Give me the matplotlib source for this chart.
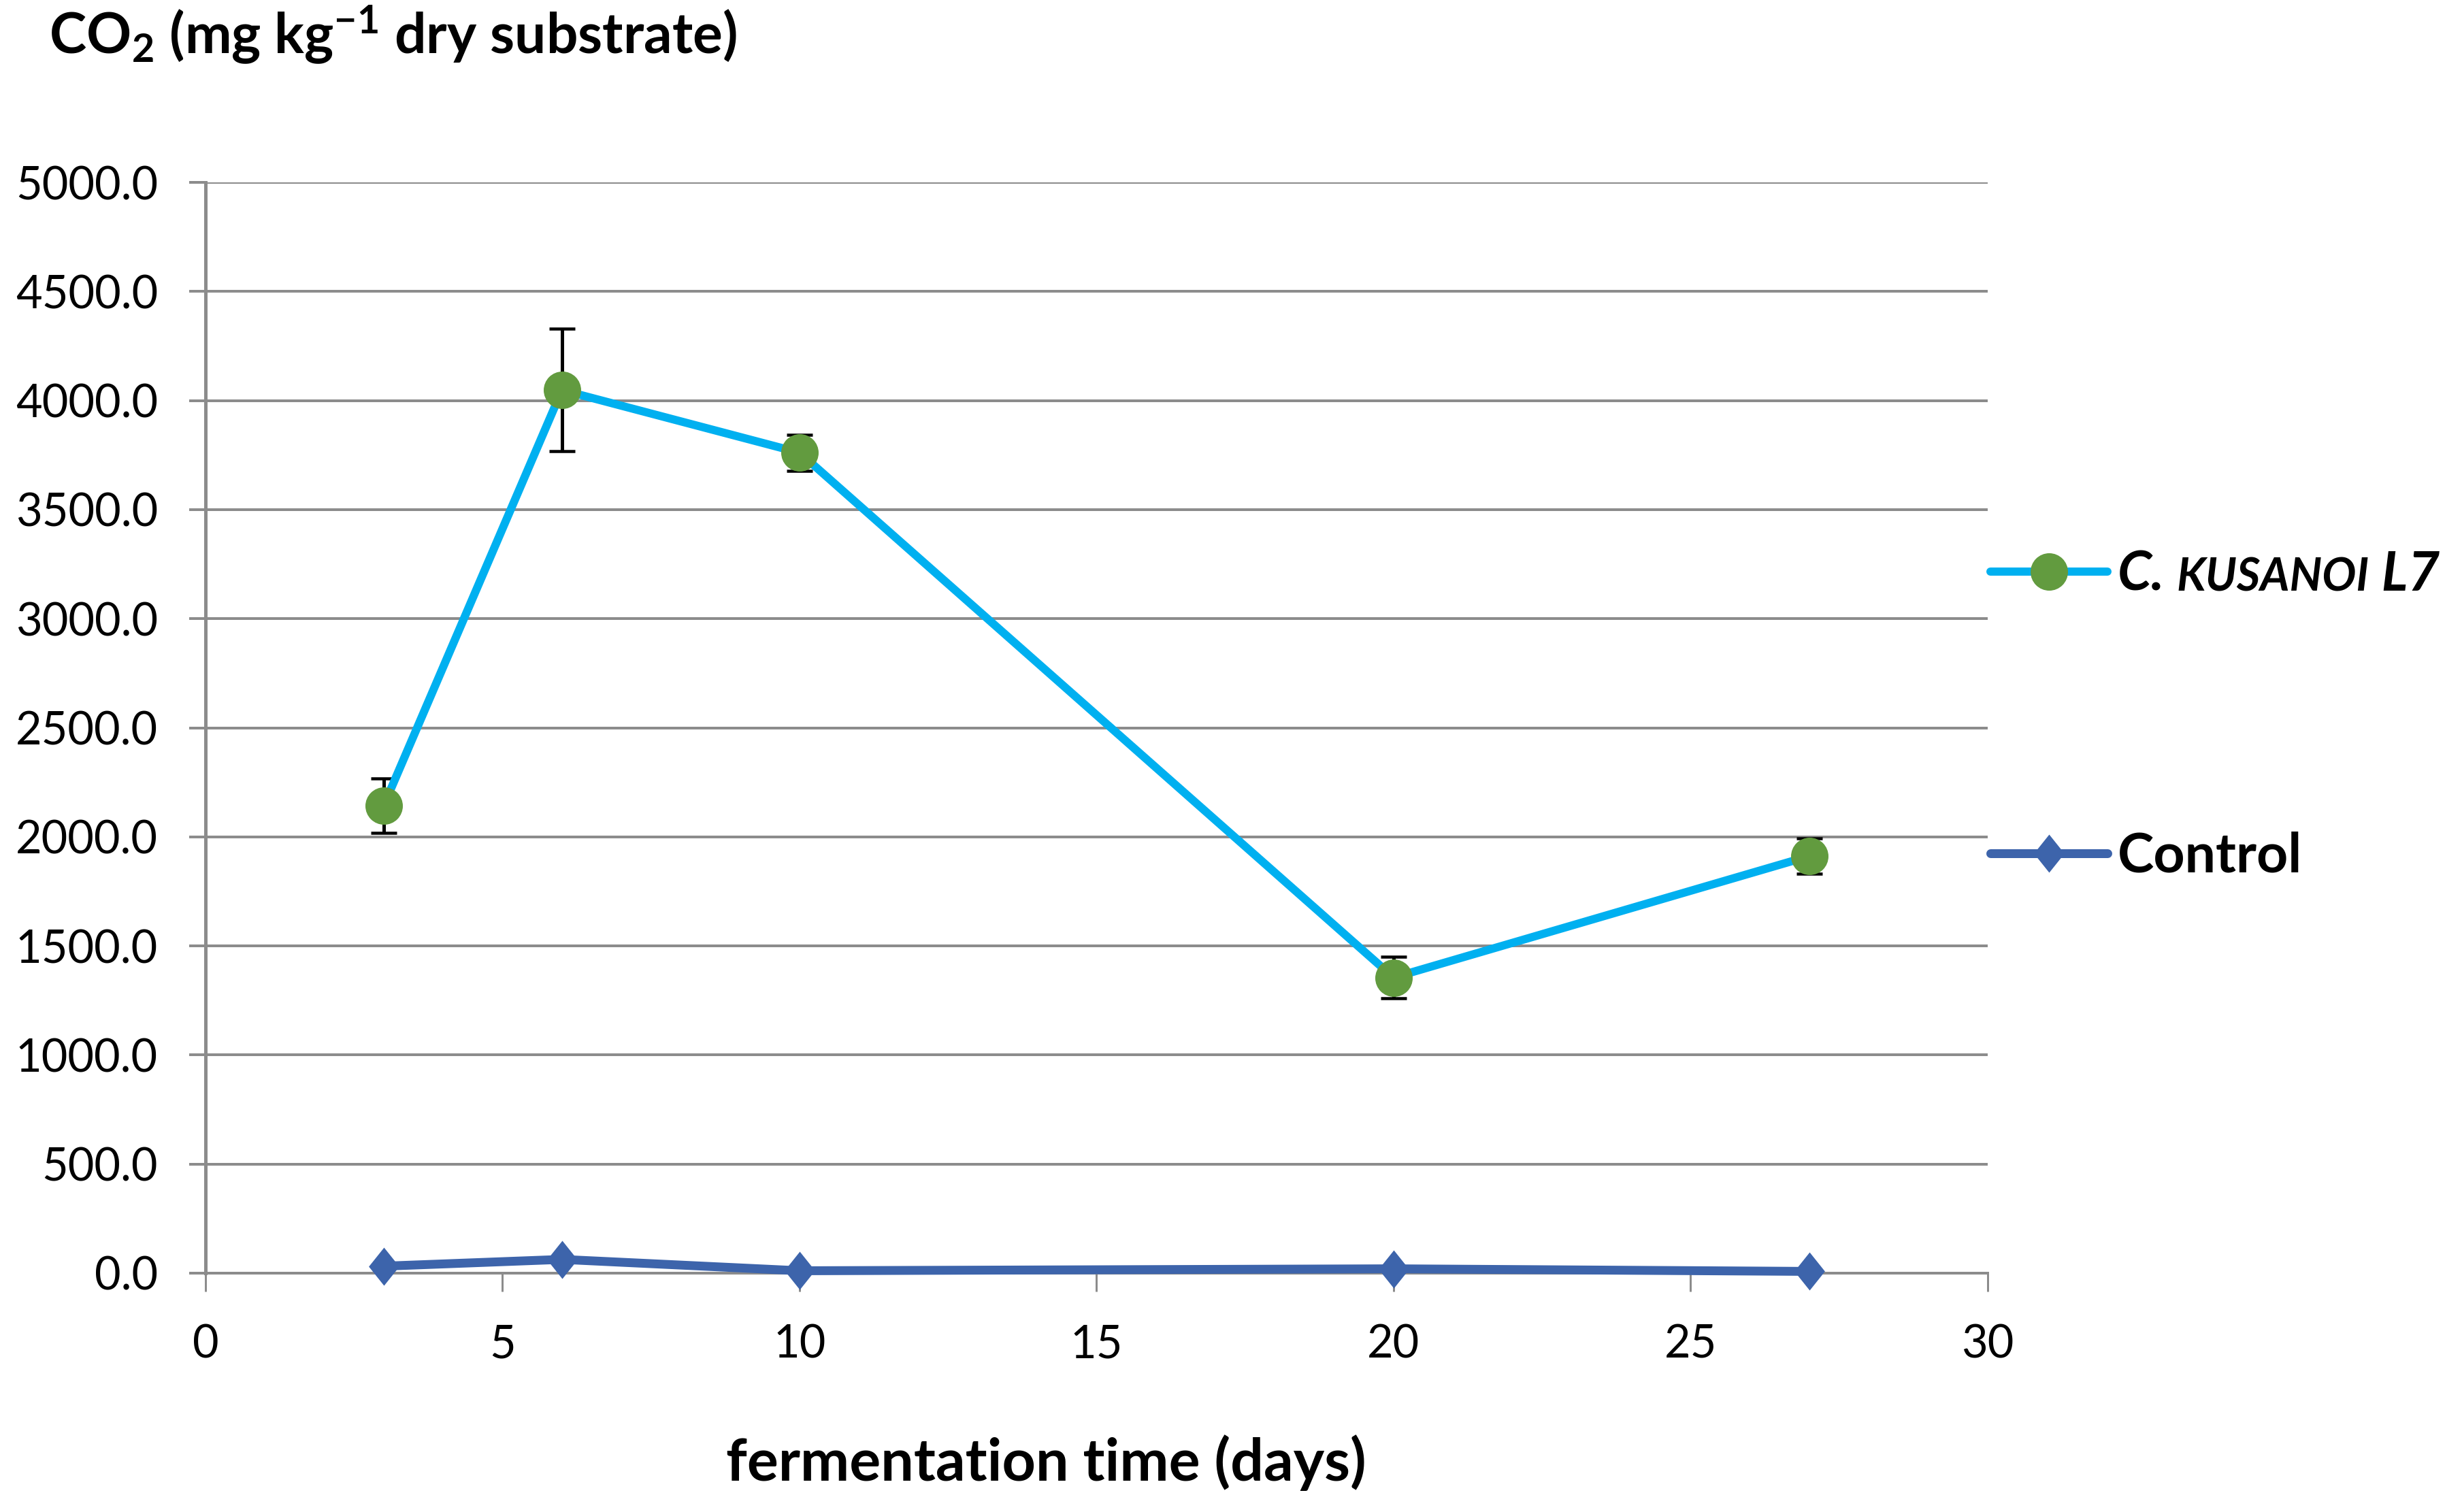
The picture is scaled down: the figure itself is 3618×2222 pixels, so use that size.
import matplotlib
matplotlib.use('Agg')
import matplotlib.pyplot as plt
from matplotlib.path import Path
from matplotlib.lines import Line2D
from matplotlib.font_manager import FontProperties

# ---------------- data ----------------
days = [3, 6, 10, 20, 27]
kusanoi_co2 = [2143, 4048, 3761, 1355, 1912]
kusanoi_err = [125, 280, 82, 94, 82]
control_co2 = [32, 63, 11, 20, 8]
x_ticks = [0, 5, 10, 15, 20, 25, 30]
y_ticks = [0, 500, 1000, 1500, 2000, 2500, 3000, 3500, 4000, 4500, 5000]
y_tick_labels = [f"{v:.1f}" for v in y_ticks]
series_names = ["C.", "KUSANOI", " L7", "Control"]
title_text = r"CO$_2$ (mg kg$^{-1}$ dry substrate)"
xlabel_text = "fermentation time (days)"

# ---------------- style ----------------
plt.rcParams['font.family'] = ['Lato', 'DejaVu Sans']
plt.rcParams['mathtext.fontset'] = 'custom'
plt.rcParams['mathtext.rm'] = 'Lato'
plt.rcParams['mathtext.bf'] = 'Lato:bold'
plt.rcParams['mathtext.it'] = 'Lato:italic'
plt.rcParams['mathtext.default'] = 'bf'

W, H = 3618, 2222
DPI = 100
def px(v):
    return v * 72.0 / DPI

GRID = '#8c8c8c'
CYAN = '#00B0F0'
GREEN = '#629B3F'
BLUE = '#3D64AB'

fig = plt.figure(figsize=(W / DPI, H / DPI), dpi=DPI)
fig.patch.set_facecolor('white')

L, R, T, B = 302, 2921, 268, 1871
ax = fig.add_axes([L / W, 1 - B / H, (R - L) / W, (B - T) / H])
ax.set_xlim(0, 30)
ax.set_ylim(0, 5000)
ax.set_xticks(x_ticks)
ax.set_yticks(y_ticks)
ax.set_yticklabels(y_tick_labels)
ax.yaxis.grid(True, color=GRID, linewidth=px(4))
ax.set_axisbelow(True)
for s in ['top', 'right']:
    ax.spines[s].set_visible(False)
for s in ['left', 'bottom']:
    ax.spines[s].set_color(GRID)
ax.spines['left'].set_linewidth(px(5))
ax.spines['bottom'].set_linewidth(px(4))
ax.tick_params(axis='y', length=px(24), width=px(4), color=GRID, pad=px(46),
               labelsize=48, labelcolor='black')
ax.tick_params(axis='x', length=px(27), width=px(3), color=GRID, pad=px(48),
               labelsize=48, labelcolor='black')

# error bars
ax.errorbar(days, kusanoi_co2, yerr=kusanoi_err, fmt='none', ecolor='black',
            elinewidth=px(5), capsize=px(19), capthick=px(4.5), zorder=3)

diamond = Path([(0, 1), (0.8, 0), (0, -1), (-0.8, 0), (0, 1)],
               [Path.MOVETO, Path.LINETO, Path.LINETO, Path.LINETO, Path.CLOSEPOLY])

ax.plot(days, kusanoi_co2, color=CYAN, lw=px(12), marker='o', ms=px(55),
        mfc=GREEN, mec=GREEN, mew=0, zorder=4, clip_on=False)
ax.plot(days, control_co2, color=BLUE, lw=px(13), marker=diamond, ms=px(56),
        mfc=BLUE, mec=BLUE, mew=0, zorder=4, clip_on=False)

# ---------------- legend ----------------
LEG_FS = 58
h1 = Line2D([], [], color=CYAN, lw=px(12), marker='o', ms=px(55), mfc=GREEN,
            mec=GREEN, mew=0, solid_capstyle='round')
h2 = Line2D([], [], color=BLUE, lw=px(13), marker=diamond, ms=px(56), mfc=BLUE,
            mec=BLUE, mew=0, solid_capstyle='round')
fs_px = LEG_FS * DPI / 72.0
leg_kw = dict(loc='center left', frameon=False, borderpad=0, borderaxespad=0,
              handlelength=172 / fs_px, handletextpad=15 / fs_px, numpoints=1)
leg1 = fig.legend([h1], [series_names[0]], bbox_to_anchor=(2925 / W, 1 - 845 / H),
                  prop=FontProperties(family='Lato', weight='bold', style='italic', size=LEG_FS),
                  **leg_kw)
leg2 = fig.legend([h2], [series_names[3]], bbox_to_anchor=(2925 / W, 1 - 1259 / H),
                  prop=FontProperties(family='Lato', weight='bold', size=LEG_FS),
                  **leg_kw)

# title and axis label
fig.text(72 / W, 1 - 78 / H, title_text, fontsize=59, fontweight='bold',
         ha='left', va='baseline')
fig.text(1537 / W, 1 - 2176 / H, xlabel_text, fontsize=62, fontweight='bold',
         ha='center', va='baseline')

# small caps continuation of first legend label
fig.canvas.draw()
renderer = fig.canvas.get_renderer()
t0 = leg1.get_texts()[0]
bb = t0.get_window_extent(renderer)
fp_big = FontProperties(family='Lato', weight='bold', style='italic', size=LEG_FS)
fp_small = FontProperties(family='Lato', weight='bold', style='italic', size=48)
_, _, d_lp = renderer.get_text_width_height_descent("lp", fp_big, ismath=False)
baseline = bb.y0 + d_lp
sp_w, _, _ = renderer.get_text_width_height_descent("a a", fp_big, ismath=False)
a_w, _, _ = renderer.get_text_width_height_descent("aa", fp_big, ismath=False)
space = sp_w - a_w
xk = bb.x1 + space
tk = fig.text(xk / W, baseline / H, series_names[1], fontproperties=fp_small,
              ha='left', va='baseline')
fig.canvas.draw()
bbk = tk.get_window_extent(renderer)
fig.text(bbk.x1 / W, baseline / H, series_names[2], fontproperties=fp_big,
         ha='left', va='baseline')

fig.savefig('out.png', dpi=DPI)
